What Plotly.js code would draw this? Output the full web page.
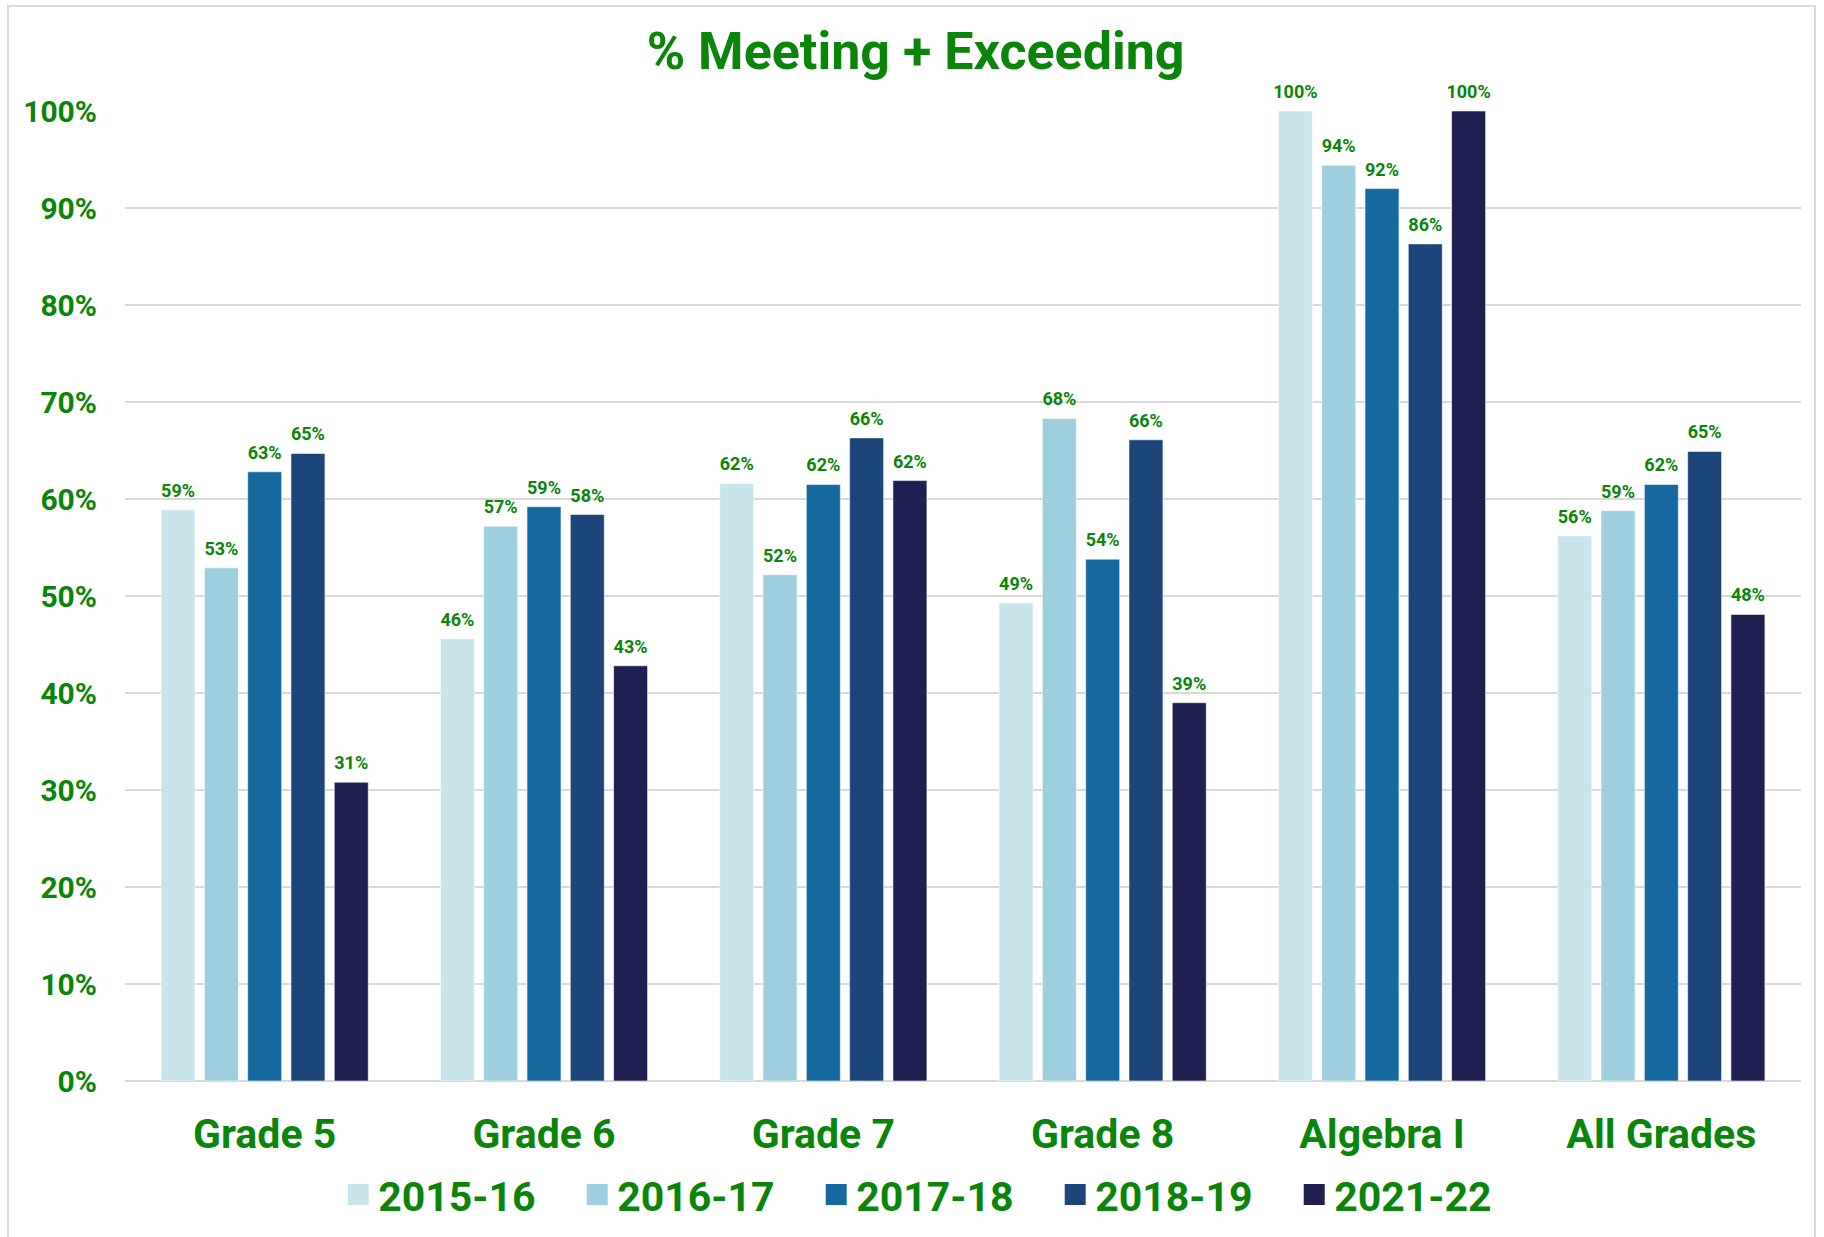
<!DOCTYPE html>
<html>
<head>
<meta charset="utf-8">
<script src="https://cdn.plot.ly/plotly-3.0.1.min.js"></script>
<style>
  html, body { margin: 0; padding: 0; background: #ffffff; }
  #wrap { position: relative; width: 1824px; height: 1237px; overflow: hidden; }
  #chart { position: absolute; left: 0; top: 0; width: 1824px; height: 1237px; }
  #frame { position: absolute; left: 7px; top: 5px; width: 1809px; height: 1250px;
           border: 2px solid #d9d9d9; pointer-events: none; box-sizing: border-box; }
</style>
</head>
<body>
<div id="wrap">
  <div id="chart"></div>
  <div id="frame"></div>
</div>
<script>
// ---- data ----
const categories = ["Grade 5", "Grade 6", "Grade 7", "Grade 8", "Algebra I", "All Grades"];
const seriesNames = ["2015-16", "2016-17", "2017-18", "2018-19", "2021-22"];
const v2015_16 = [0.589, 0.456, 0.616, 0.493, 1.000, 0.562];
const v2016_17 = [0.529, 0.572, 0.522, 0.683, 0.944, 0.588];
const v2017_18 = [0.628, 0.592, 0.615, 0.538, 0.920, 0.615];
const v2018_19 = [0.647, 0.584, 0.663, 0.661, 0.863, 0.649];
const v2021_22 = [0.308, 0.428, 0.619, 0.390, 1.000, 0.481];
const yTickVals = [0, 0.1, 0.2, 0.3, 0.4, 0.5, 0.6, 0.7, 0.8, 0.9, 1.0];
const chartTitle = "% Meeting + Exceeding";

const seriesValues = [v2015_16, v2016_17, v2017_18, v2018_19, v2021_22];
const colors = ["#c9e5ec", "#9ecfdf", "#15699f", "#1c4679", "#201f52"];
const green = "#0a850a";
const fam = "Roboto, 'Liberation Sans', Arial, sans-serif";

const traces = [];
// bars
seriesValues.forEach((vals, i) => {
  traces.push({
    type: "bar",
    name: seriesNames[i],
    x: categories,
    y: vals,
    offsetgroup: seriesNames[i],
    showlegend: false,
    marker: { color: colors[i], line: { color: "rgba(255,255,255,0.55)", width: 1 } },
    hoverinfo: "x+y+name"
  });
});
// value labels (grouped scatter text sitting above each bar)
seriesValues.forEach((vals, i) => {
  traces.push({
    type: "scatter",
    mode: "markers+text",
    name: seriesNames[i],
    x: categories,
    y: vals,
    offsetgroup: seriesNames[i],
    showlegend: false,
    marker: { size: 12, color: "rgba(0,0,0,0)" },
    texttemplate: "%{y:.0%}",
    textposition: "top center",
    cliponaxis: false,
    textfont: { family: fam, size: 18, color: green, weight: 700 },
    hoverinfo: "skip"
  });
});
// legend entries (square swatches)
seriesNames.forEach((n, i) => {
  traces.push({
    type: "scatter",
    mode: "markers",
    name: n,
    offsetgroup: n,
    x: [categories[0]],
    y: [null],
    marker: { symbol: "square", size: 16, color: colors[i], line: { color: colors[i], width: 5 } },
    hoverinfo: "skip"
  });
});

const layout = {
  width: 1824,
  height: 1237,
  paper_bgcolor: "#ffffff",
  plot_bgcolor: "#ffffff",
  margin: { l: 125, r: 23, t: 110.5, b: 156 },
  barmode: "group",
  bargap: 0.225,
  bargroupgap: 0.215,
  scattermode: "group",
  scattergap: 0.225,
  font: { family: fam, color: green, weight: 700 },
  title: {
    text: chartTitle,
    font: { family: fam, size: 52, color: green, weight: 700 },
    x: 0.502, xref: "container", xanchor: "center",
    y: 0.959, yref: "container", yanchor: "middle"
  },
  xaxis: {
    type: "category",
    tickfont: { family: fam, size: 41, color: green, weight: 700 },
    ticks: "",
    showline: false,
    showgrid: false,
    ticklabelstandoff: 25
  },
  yaxis: {
    range: [0, 1],
    tickvals: yTickVals,
    tickformat: ".0%",
    tickfont: { family: fam, size: 30, color: green, weight: 700 },
    showgrid: true,
    gridcolor: "#d9d9d9",
    gridwidth: 1.3,
    zeroline: true,
    zerolinecolor: "#d9d9d9",
    zerolinewidth: 2,
    showline: false,
    ticks: "",
    ticklabelstandoff: 27
  },
  showlegend: true,
  legend: {
    orientation: "h",
    xref: "container", yref: "container",
    x: 0.513, xanchor: "center",
    y: 0.034, yanchor: "middle",
    font: { family: fam, size: 41, color: green, weight: 700 },
    entrywidth: 194,
    entrywidthmode: "pixels",
    itemclick: false, itemdoubleclick: false,
    bgcolor: "rgba(0,0,0,0)"
  }
};

Plotly.newPlot("chart", traces, layout, { displayModeBar: false, staticPlot: true });
</script>
</body>
</html>
